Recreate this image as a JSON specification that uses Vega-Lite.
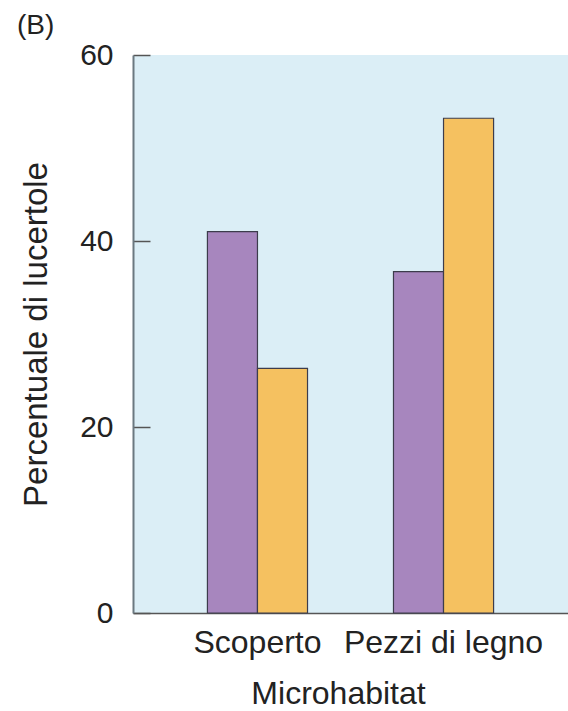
{
  "$schema": "https://vega.github.io/schema/vega-lite/v6.json",
  "width": 435,
  "height": 558,
  "autosize": "none",
  "padding": {"left": 133, "top": 55, "right": 0, "bottom": 98},
  "background": "white",
  "config": {
    "view": {"fill": "#dbeef6", "stroke": null},
    "font": "Liberation Sans"
  },
  "title": {
    "text": "(B)",
    "anchor": "start",
    "frame": "group",
    "dx": -116,
    "dy": 40,
    "offset": 18,
    "baseline": "alphabetic",
    "fontSize": 28,
    "fontWeight": "normal",
    "color": "#222222"
  },
  "data": {
    "values": [
      {"microhabitat": "Scoperto", "gruppo": "A", "percentuale": 41.0},
      {"microhabitat": "Scoperto", "gruppo": "B", "percentuale": 26.3},
      {"microhabitat": "Pezzi di legno", "gruppo": "A", "percentuale": 36.7},
      {"microhabitat": "Pezzi di legno", "gruppo": "B", "percentuale": 53.2}
    ]
  },
  "mark": {"type": "bar", "stroke": "#3c3c4c", "strokeWidth": 1.2},
  "encoding": {
    "x": {
      "field": "microhabitat",
      "type": "nominal",
      "sort": ["Scoperto", "Pezzi di legno"],
      "scale": {"paddingInner": 0.462, "paddingOuter": 0.4},
      "axis": {
        "title": "Microhabitat",
        "labelAngle": 0,
        "ticks": false,
        "domainColor": "#555555",
        "domainWidth": 1.5,
        "labelFontSize": 32,
        "labelLimit": 0,
        "labelOverlap": false,
        "labelColor": "#222222",
        "labelPadding": 14,
        "titleFontSize": 32,
        "titleFontWeight": "normal",
        "titleColor": "#222222",
        "titlePadding": 20,
        "titleX": 205
      }
    },
    "xOffset": {"field": "gruppo", "type": "nominal", "sort": ["A", "B"]},
    "y": {
      "field": "percentuale",
      "type": "quantitative",
      "scale": {"domain": [0, 60], "nice": false},
      "axis": {
        "title": "Percentuale di lucertole",
        "values": [0, 20, 40, 60],
        "grid": false,
        "tickSize": -17,
        "tickColor": "#555555",
        "tickWidth": 1.5,
        "domainColor": "#6b7880",
        "domainWidth": 2,
        "labelFontSize": 30,
        "labelColor": "#222222",
        "labelPadding": 37,
        "titleFontSize": 33,
        "titleFontWeight": "normal",
        "titleColor": "#222222",
        "titlePadding": 26
      }
    },
    "color": {
      "field": "gruppo",
      "type": "nominal",
      "scale": {"range": ["#a786be", "#f5c160"]},
      "legend": null
    }
  }
}
